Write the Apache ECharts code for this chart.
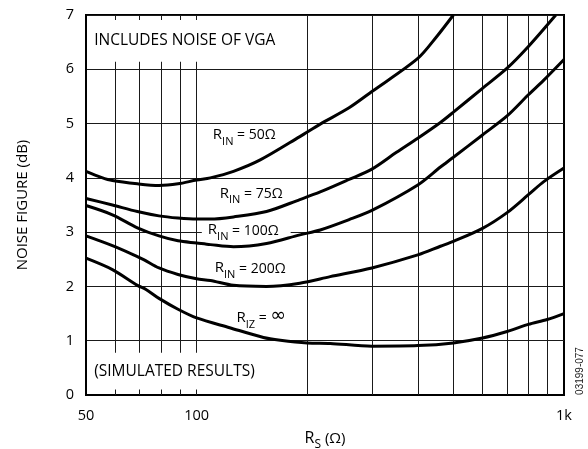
<!DOCTYPE html>
<html><head><meta charset="utf-8">
<script src="https://cdn.jsdelivr.net/npm/echarts@6/dist/echarts.min.js"></script>
<style>html,body{margin:0;padding:0;background:#fff}#c{width:588px;height:449px}</style>
</head><body><div id="c"></div>
<script>
// R_IN = 50 ohm
const rs50 = [50, 55, 59, 69, 79, 89, 100, 109, 126, 149, 191, 217, 260, 300, 400, 450, 500];
const nf50 = [4.12, 4.01, 3.95, 3.89, 3.86, 3.89, 3.96, 4.00, 4.12, 4.33, 4.76, 4.99, 5.29, 5.59, 6.2, 6.6, 7.0];
// R_IN = 75 ohm
const rs75 = [50, 59, 69, 79, 89, 100, 109, 126, 155, 191, 217, 260, 300, 350, 400, 461, 500, 600, 700, 800, 950];
const nf75 = [3.62, 3.50, 3.38, 3.30, 3.26, 3.24, 3.24, 3.28, 3.38, 3.60, 3.74, 3.97, 4.16, 4.47, 4.73, 5.02, 5.21, 5.65, 6.02, 6.42, 7.0];
// R_IN = 100 ohm
const rs100 = [50, 59, 69, 79, 89, 100, 109, 126, 155, 191, 217, 260, 300, 400, 461, 500, 600, 700, 800, 881, 1000];
const nf100 = [3.49, 3.32, 3.08, 2.93, 2.84, 2.80, 2.77, 2.73, 2.79, 2.95, 3.04, 3.23, 3.40, 3.87, 4.20, 4.38, 4.79, 5.14, 5.53, 5.80, 6.18];
// R_IN = 200 ohm
const rs200 = [50, 59, 69, 72, 79, 89, 100, 109, 126, 155, 191, 231, 300, 400, 461, 500, 600, 700, 800, 881, 1000];
const nf200 = [2.93, 2.75, 2.55, 2.49, 2.34, 2.22, 2.14, 2.11, 2.02, 2.00, 2.06, 2.18, 2.34, 2.58, 2.74, 2.83, 3.07, 3.36, 3.69, 3.93, 4.18];
// R_IZ = infinity
const rsInf = [50, 59, 69, 73, 79, 89, 100, 123, 152, 169, 200, 231, 300, 400, 500, 600, 700, 800, 900, 1000];
const nfInf = [2.52, 2.31, 2.02, 1.94, 1.78, 1.58, 1.42, 1.24, 1.06, 1.01, 0.96, 0.95, 0.90, 0.91, 0.96, 1.05, 1.17, 1.30, 1.39, 1.50];

const xTickValues = [50, 100, 1000];
const xTickLabels = ['50', '100', '1k'];
const xGridValues = [60, 70, 80, 90, 100, 200, 300, 400, 500, 600, 700, 800, 900];

const F = "'Open Sans', sans-serif";
const INK = '#000';
const GRID = '#1a1a1a';

function pairs(xs, ys) { return xs.map((x, i) => [x, ys[i]]); }

const richBase = {
  r: { fontSize: 15, fontFamily: F, color: INK, padding: [0, 0, 5, 0], verticalAlign: 'bottom' },
  s: { fontSize: 11, fontFamily: F, color: INK, verticalAlign: 'bottom' },
  t: { fontSize: 14, fontFamily: F, color: INK, padding: [0, 0, 5, 0], verticalAlign: 'bottom' },
  inf: { fontSize: 19, fontFamily: 'DejaVu Sans', color: INK, padding: [0, 0, 5, 0], verticalAlign: 'bottom' }
};
const richName = {
  r: { fontSize: 16, fontFamily: F, color: INK, padding: [0, 0, 5, 0], verticalAlign: 'bottom' },
  s: { fontSize: 12, fontFamily: F, color: INK, verticalAlign: 'bottom' },
  t: { fontSize: 15, fontFamily: F, color: INK, padding: [0, 0, 5, 0], verticalAlign: 'bottom' }
};

function curve(name, xs, ys) {
  return {
    name, type: 'line', data: pairs(xs, ys), symbol: 'none', smooth: 0.3, z: 3,
    lineStyle: { color: INK, width: 3 }, emphasis: { disabled: true }, animation: false
  };
}

const chart = echarts.init(document.getElementById('c'), null, { renderer: 'canvas' });
chart.setOption({
  backgroundColor: '#fff',
  animation: false,
  grid: { left: 86, right: 24, top: 15, bottom: 54, show: true, borderColor: INK, borderWidth: 2, containLabel: false, outerBoundsMode: 'none' },
  xAxis: {
    type: 'log', logBase: 10, min: 50, max: 1000,
    axisLine: { show: true, lineStyle: { color: INK, width: 2 } },
    axisTick: { show: false },
    splitLine: { show: false },
    minorSplitLine: { show: false },
    axisLabel: {
      color: INK, fontSize: 14.5, fontFamily: F, margin: 13,
      formatter: function (v) {
        let best = 0, d = Infinity;
        xTickValues.forEach((t, i) => { const e = Math.abs(Math.log10(v) - Math.log10(t)); if (e < d) { d = e; best = i; } });
        return d < 0.01 ? xTickLabels[best] : '';
      }
    },
    name: '{r|R}{s|S}{t| (Ω)}',
    nameLocation: 'middle', nameGap: 35,
    nameTextStyle: { rich: richName }
  },
  yAxis: {
    type: 'value', min: 0, max: 7, interval: 1,
    axisLine: { show: true, lineStyle: { color: INK, width: 2 } },
    axisTick: { show: false },
    splitLine: { show: true, lineStyle: { color: GRID, width: 1 } },
    axisLabel: { color: INK, fontSize: 14.5, fontFamily: F, margin: 12 },
    name: 'NOISE FIGURE (dB)', nameLocation: 'middle', nameGap: 56,
    nameTextStyle: { color: INK, fontSize: 15, fontFamily: F }
  },
  graphic: [{
    type: 'text', x: 580, y: 371, rotation: Math.PI / 2,
    style: { text: '03199-077', fontSize: 10, fontFamily: "'Liberation Sans', sans-serif", fill: '#222', textAlign: 'center', textVerticalAlign: 'middle' }
  }],
  series: [
    {
      name: 'vgrid', type: 'line', data: [], z: 1, silent: true,
      markLine: {
        silent: true, z: 1, symbol: ['none', 'none'], animation: false,
        label: { show: false }, emphasis: { disabled: true },
        lineStyle: { color: GRID, width: 1, type: 'solid' },
        data: xGridValues.map(v => ({ xAxis: v }))
      }
    },
    {
      name: 'boxes', type: 'line', data: [], z: 2, silent: true,
      markArea: {
        silent: true, z: 2, animation: false,
        itemStyle: { color: '#fff' },
        label: { show: true, position: 'insideLeft', distance: 5, color: INK, fontSize: 15.5, fontFamily: F },
        emphasis: { disabled: true },
        data: [
          [{ name: 'INCLUDES NOISE OF VGA', coord: [51, 6.14] }, { coord: [180, 6.91] }],
          [{ name: '(SIMULATED RESULTS)', coord: [51, 0.10] }, { coord: [180, 0.78] }]
        ]
      }
    },
    {
      name: 'labels', type: 'line', data: [], z: 2, silent: true,
      markPoint: {
        silent: true, z: 2, animation: false, symbol: 'rect', symbolSize: 1,
        itemStyle: { color: 'rgba(0,0,0,0)' },
        label: { show: true, position: 'inside', rich: richBase },
        emphasis: { disabled: true },
        data: [
          { coord: [134.8, 4.75], label: { formatter: '{r|R}{s|IN}{t| = 50Ω}' } },
          { coord: [140.8, 3.67], label: { formatter: '{r|R}{s|IN}{t| = 75Ω}' } },
          { coord: [136.5, 2.99], label: { formatter: '{r|R}{s|IN}{t| = 100Ω}', backgroundColor: '#fff', padding: [0, 12, 0, 6] } },
          { coord: [139.9, 2.29], label: { formatter: '{r|R}{s|IN}{t| = 200Ω}' } },
          { coord: [150, 1.41], label: { formatter: '{r|R}{s|IZ}{t| = }{inf|∞}' } }
        ]
      }
    },
    curve('RIN50', rs50, nf50),
    curve('RIN75', rs75, nf75),
    curve('RIN100', rs100, nf100),
    curve('RIN200', rs200, nf200),
    curve('RIZinf', rsInf, nfInf)
  ]
});
</script>
</body></html>
